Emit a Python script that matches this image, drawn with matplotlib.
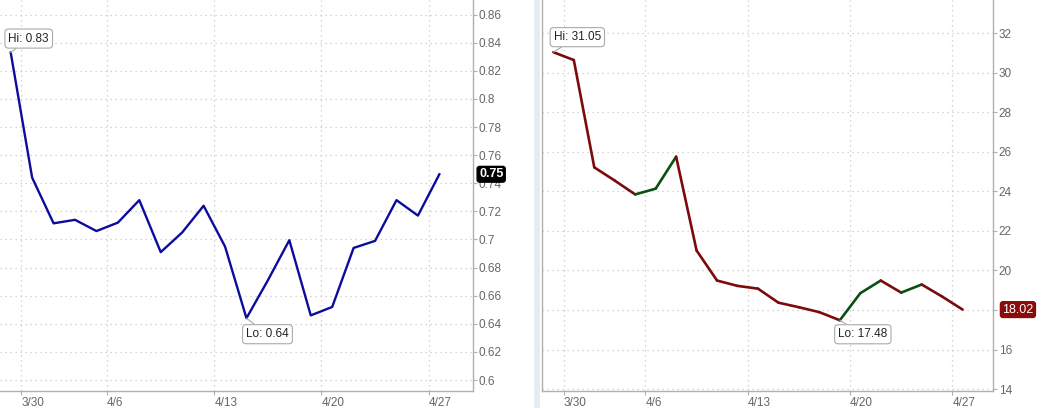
import matplotlib
matplotlib.use("Agg")
import matplotlib.pyplot as plt
import numpy as np

plt.rcParams['font.family'] = ['Liberation Sans', 'DejaVu Sans']

# ---- data ----
dates = ["3/27", "3/30", "3/31", "4/1", "4/2", "4/6", "4/7", "4/8", "4/9", "4/10",
         "4/13", "4/14", "4/15", "4/16", "4/17", "4/20", "4/21", "4/22", "4/23", "4/24", "4/27"]
left_values = [0.833, 0.744, 0.7115, 0.714, 0.706, 0.712, 0.728, 0.691, 0.705, 0.724,
               0.695, 0.644, 0.671, 0.6995, 0.646, 0.652, 0.694, 0.699, 0.728, 0.717, 0.7464]
right_values = [31.05, 30.65, 25.22, 24.55, 23.85, 24.14, 25.76, 21.01, 19.49, 19.22,
                19.08, 18.37, 18.14, 17.89, 17.48, 18.85, 19.49, 18.88, 19.29, 18.68, 18.02]
tick_dates = ["3/30", "4/6", "4/13", "4/20", "4/27"]
left_yticks = [0.6, 0.62, 0.64, 0.66, 0.68, 0.7, 0.72, 0.74, 0.76, 0.78, 0.8, 0.82, 0.84, 0.86]
left_yticklabels = ["0.6", "0.62", "0.64", "0.66", "0.68", "0.7", "0.72", "0.74", "0.76",
                    "0.78", "0.8", "0.82", "0.84", "0.86"]
right_yticks = [14, 16, 18, 20, 22, 24, 26, 28, 30, 32]
# "18" is hidden behind the last-value badge in the reference
right_yticklabels = ["14", "16", "", "20", "22", "24", "26", "28", "30", "32"]

BLUE = "#0c0c9c"
RED = "#7d0a0a"
GREEN = "#0c4f14"
GRID = "#c8c8c8"
SPINE = "#b0b0b0"
TICKC = "#666666"
FS = 8.5

W, H = 1057, 408
fig = plt.figure(figsize=(W / 100, H / 100), dpi=100)
fig.patch.set_facecolor("white")

# separator band
fig.patches.append(plt.Rectangle((534 / W, 0), 6 / W, 1, transform=fig.transFigure,
                                 facecolor="#e4edf2", edgecolor="none", zorder=0))

axL = fig.add_axes([0 / W, 17 / H, 473 / W, 391 / H])
axR = fig.add_axes([542.3 / W, 17 / H, 451 / W, 391 / H])

x = np.arange(len(dates))
tick_pos = [dates.index(d) - 0.5 for d in tick_dates]


def style(ax, left_spine):
    ax.set_facecolor("white")
    ax.spines["top"].set_visible(False)
    ax.spines["left"].set_visible(left_spine)
    for s in ["bottom", "right", "left"]:
        ax.spines[s].set_color(SPINE)
        ax.spines[s].set_linewidth(1.0)
    ax.yaxis.tick_right()
    ax.set_xticks(tick_pos)
    ax.set_xticklabels(tick_dates, ha="left")
    ax.tick_params(axis="x", length=3, color=SPINE, labelcolor=TICKC, labelsize=FS, pad=1)
    ax.tick_params(axis="y", length=3, color=SPINE, labelcolor=TICKC, labelsize=FS, pad=1,
                   left=False, right=True)
    ax.grid(True, linestyle=(0, (1, 3)), color=GRID, linewidth=0.9)
    ax.set_axisbelow(True)


# ---- left panel ----
style(axL, False)
axL.plot(x, left_values, color=BLUE, lw=1.7, solid_joinstyle="round")
axL.set_xlim(-0.5, 21.57)
axL.set_ylim(0.5922, 0.8704)
axL.set_yticks(left_yticks)
axL.set_yticklabels(left_yticklabels)

# ---- right panel ----
style(axR, True)
for i in range(len(x) - 1):
    c = GREEN if right_values[i + 1] > right_values[i] else RED
    axR.plot(x[i:i + 2], right_values[i:i + 2], color=c, lw=1.9, solid_capstyle="round")
axR.set_xlim(-0.54, 21.5)
axR.set_ylim(13.9, 33.69)
axR.set_yticks(right_yticks)
axR.set_yticklabels(right_yticklabels)

box = dict(boxstyle="round,pad=0.3,rounding_size=0.3", fc="white", ec="#aaaaaa", lw=0.8)
arrow = dict(arrowstyle="-", color="#aaaaaa", lw=0.8, shrinkA=0, shrinkB=0)


def note(ax, i, vals, txt, off):
    ax.annotate(txt, xy=(x[i], vals[i]), xytext=off, textcoords="offset pixels",
                ha="center", va="center", fontsize=FS, color="#222222",
                bbox=box, arrowprops=arrow, zorder=5)


iL_hi = int(np.argmax(left_values)); iL_lo = int(np.argmin(left_values))
iR_hi = int(np.argmax(right_values)); iR_lo = int(np.argmin(right_values))
note(axL, iL_hi, left_values, f"Hi: {left_values[iL_hi]:.2f}", (18, 14))
note(axL, iL_lo, left_values, f"Lo: {left_values[iL_lo]:.2f}", (21, -16))
note(axR, iR_hi, right_values, f"Hi: {right_values[iR_hi]:.2f}", (24, 15))
note(axR, iR_lo, right_values, f"Lo: {right_values[iR_lo]:.2f}", (23, -14))

# last value labels
axL.annotate(f"{left_values[-1]:.2f}", xy=(1.0, left_values[-1]),
             xycoords=axL.get_yaxis_transform(), xytext=(6, 0), textcoords="offset pixels",
             ha="left", va="center", fontsize=FS + 0.5, color="white", fontweight="bold",
             bbox=dict(boxstyle="round,pad=0.15,rounding_size=0.2", fc="black", ec="black"),
             zorder=6, annotation_clip=False)
axR.annotate(f"{right_values[-1]:.2f}", xy=(1.0, right_values[-1]),
             xycoords=axR.get_yaxis_transform(), xytext=(9, 0), textcoords="offset pixels",
             ha="left", va="center", fontsize=FS + 0.5, color="white",
             bbox=dict(boxstyle="round,pad=0.15,rounding_size=0.2", fc="#8b0a0a", ec="#8b0a0a"),
             zorder=6, annotation_clip=False)

fig.savefig("out.png", dpi=100, facecolor="white")
